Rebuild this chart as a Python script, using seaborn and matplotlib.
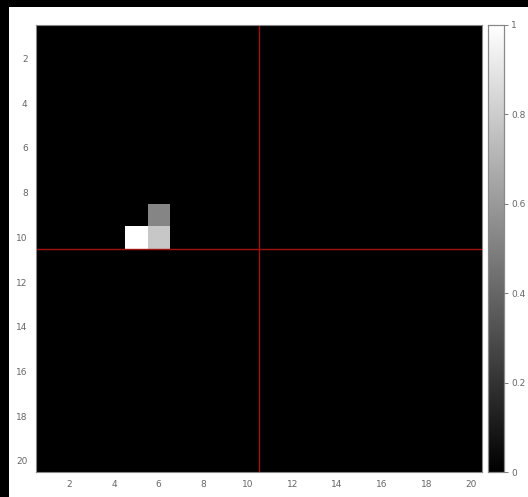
import numpy as np
import pandas as pd
import matplotlib
matplotlib.use("Agg")
import matplotlib.pyplot as plt
from matplotlib.patches import Rectangle
import seaborn as sns

# Grid size and the few non-zero pixels (row, col are 1-based)
n_rows = 20
n_cols = 20
hot_rows = [10, 10, 9]
hot_cols = [5, 6, 6]
hot_vals = [1.0, 0.78, 0.52]

# Crosshair location (1-based, between pixels)
cross_row = 10.5
cross_col = 10.5

tick_vals = [2, 4, 6, 8, 10, 12, 14, 16, 18, 20]
cbar_ticks = [0, 0.2, 0.4, 0.6, 0.8, 1]
cbar_labels = ["0", "0.2", "0.4", "0.6", "0.8", "1"]

grid = np.zeros((n_rows, n_cols))
for r, c, v in zip(hot_rows, hot_cols, hot_vals):
    grid[r - 1, c - 1] = v
df = pd.DataFrame(grid, index=range(1, n_rows + 1), columns=range(1, n_cols + 1))

sns.set_style("white")
plt.rcParams["font.family"] = ["DejaVu Sans"]

fig = plt.figure(figsize=(5.28, 4.97), dpi=100)
fig.patch.set_facecolor("black")
fig.add_artist(Rectangle((9 / 528, 0), 1 - 9 / 528, 1 - 7 / 497,
                         transform=fig.transFigure, facecolor="white",
                         edgecolor="none", zorder=-10))

ax = fig.add_axes([36 / 528, 25 / 497, 446 / 528, 447 / 497])
cax = fig.add_axes([488 / 528, 25 / 497, 16 / 528, 447 / 497])

sns.heatmap(df, ax=ax, cbar_ax=cax, cmap="gray", vmin=0, vmax=1,
            square=False, xticklabels=False, yticklabels=False)

# Crosshair lines (heatmap cell i spans [i-1, i])
ax.axvline(cross_col - 0.5, color="#a01212", lw=1.0)
ax.axhline(cross_row - 0.5, color="#a01212", lw=1.0)

tick_color = "#666666"
ax.set_xticks([t - 0.5 for t in tick_vals])
ax.set_xticklabels([str(t) for t in tick_vals])
ax.set_yticks([t - 0.5 for t in tick_vals])
ax.set_yticklabels([str(t) for t in tick_vals], rotation=0)
ax.tick_params(axis="both", direction="in", length=3, width=0.6,
               colors=tick_color, labelsize=6.5, pad=6,
               bottom=True, left=True)
for s in ax.spines.values():
    s.set_visible(True)
    s.set_color("#888888")
    s.set_linewidth(0.8)

cax.set_yticks(cbar_ticks)
cax.set_yticklabels(cbar_labels)
cax.tick_params(axis="y", direction="out", length=3, width=0.6,
                colors=tick_color, labelsize=6.5, pad=2)
for s in cax.spines.values():
    s.set_visible(True)
    s.set_color("#888888")
    s.set_linewidth(0.8)

fig.savefig("out.png", dpi=100, facecolor=fig.get_facecolor())
